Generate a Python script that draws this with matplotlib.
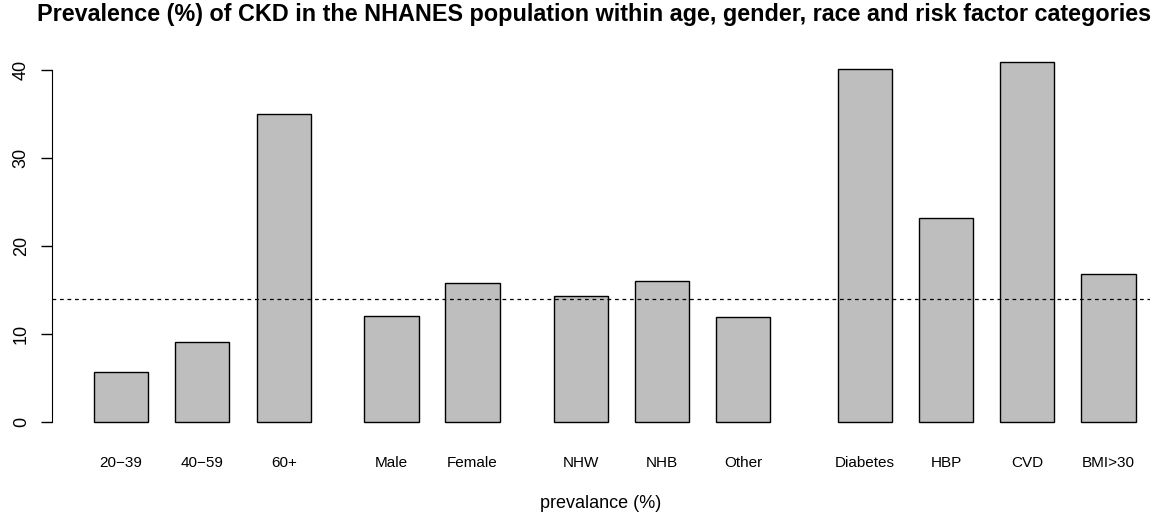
import matplotlib
matplotlib.use("Agg")
import matplotlib.pyplot as plt

categories = ["20−39", "40−59", "60+", "Male", "Female", "NHW", "NHB", "Other",
              "Diabetes", "HBP", "CVD", "BMI>30"]
prevalence = [5.7, 9.1, 35.0, 12.1, 15.8, 14.3, 16.0, 11.9, 40.1, 23.2, 40.9, 16.8]
overall = 14.0
y_ticks = [0, 10, 20, 30, 40]

# layout: bar centres in axis units (bar width = 1)
centres = [1.27, 2.76, 4.26, 6.24, 7.73, 9.72, 11.21, 12.70, 14.94, 16.43, 17.92, 19.42]

plt.rcParams['font.family'] = ['Liberation Sans', 'DejaVu Sans']

fig = plt.figure(figsize=(11.53, 5.21), dpi=100)
W, H = 1153, 521
left, right, top, bottom = 52, 1150, 47.2, 436.8
ax = fig.add_axes([left / W, 1 - bottom / H, (right - left) / W, (bottom - top) / H])

ax.bar(centres, prevalence, width=1.0, color="#bebebe", edgecolor="black", linewidth=1.0)
ax.axhline(overall, color="black", linestyle=(0, (3, 3)), linewidth=0.9)

ax.set_xlim(0, 20.18)
ymax = max(prevalence)
ax.set_ylim(-0.04 * ymax, 1.04 * ymax)

for s in ["top", "right", "bottom"]:
    ax.spines[s].set_visible(False)
ax.spines["left"].set_bounds(0, 40)
ax.set_yticks(y_ticks)
ax.set_yticklabels([str(t) for t in y_ticks], rotation=90, va="center", fontsize=13)
ax.tick_params(axis="y", length=8, width=1, pad=8)

ax.set_xticks(centres)
ax.set_xticklabels(categories, fontsize=11)
ax.tick_params(axis="x", length=0, pad=13.5)

ax.set_xlabel("prevalance (%)", fontsize=13, va="center")
ax.xaxis.set_label_coords(0.5, (bottom - 503) / (bottom - top))
fig.text(594 / W, 1 - 15 / H,
         "Prevalence (%) of CKD in the NHANES population within age, gender, race and risk factor categories",
         ha="center", va="center", fontsize=16.8, fontweight="bold")

fig.savefig("out.png", dpi=100)
